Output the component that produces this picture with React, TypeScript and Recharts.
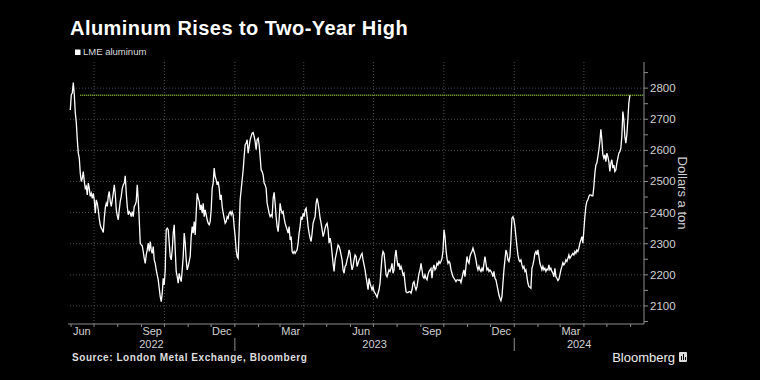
import React from 'react';
import { LineChart, Line, XAxis, YAxis, ReferenceLine } from 'recharts';

// ---------- data ----------
const seriesStart = '2022-05-31';
const seriesEnd = '2024-05-31';
const axisStart = '2022-05-28';
const axisEnd = '2024-06-18T12:00:00Z';
const highlightStart = '2022-06-13';

// LME aluminum, dollars a ton (roughly every trading day)
const prices: number[] = [
  2730, 2779, 2784, 2818, 2779, 2720, 2690, 2634, 2591, 2575,
  2527, 2500, 2510, 2532, 2500, 2478, 2484, 2457, 2495, 2478,
  2452, 2462, 2446, 2462, 2440, 2398, 2441, 2430, 2409, 2380,
  2360, 2350, 2345, 2336, 2380, 2415, 2430, 2420, 2452, 2468,
  2436, 2420, 2440, 2462, 2489, 2460, 2410, 2390, 2377, 2409,
  2436, 2452, 2478, 2489, 2495, 2518, 2462, 2420, 2393, 2403,
  2398, 2387, 2403, 2387, 2420, 2425, 2436, 2489, 2440, 2377,
  2302, 2296, 2293, 2275, 2253, 2237, 2264, 2280, 2302, 2275,
  2307, 2280, 2269, 2291, 2248, 2237, 2216, 2200, 2184, 2157,
  2130, 2114, 2141, 2189, 2168, 2216, 2345, 2350, 2345, 2302,
  2259, 2248, 2280, 2334, 2361, 2280, 2211, 2194, 2173,
  2205, 2189, 2178, 2216, 2259, 2334, 2302, 2248, 2216, 2227,
  2243, 2259, 2323, 2355, 2334, 2371, 2328, 2398, 2462, 2446,
  2436, 2409, 2425, 2398, 2430, 2387, 2409, 2393, 2377, 2366,
  2361, 2371, 2409, 2478, 2495, 2543, 2516, 2505, 2489, 2500,
  2478, 2441, 2457, 2420, 2398, 2382, 2366, 2371, 2387, 2382,
  2398, 2403, 2393, 2403, 2393, 2355, 2323, 2280, 2259, 2253,
  2345, 2441, 2473, 2505, 2537, 2580, 2618, 2623, 2634, 2591,
  2612, 2634, 2645, 2655, 2657, 2645, 2629, 2602, 2634, 2639,
  2618, 2580, 2537, 2532, 2521, 2495, 2489, 2478, 2430, 2414,
  2398, 2387, 2393, 2387, 2446, 2465, 2430, 2387, 2355, 2339,
  2377, 2430, 2409, 2398, 2403, 2382, 2366, 2355, 2345, 2334,
  2355, 2312, 2323, 2275, 2269,
  2275, 2269, 2275, 2280, 2302, 2334, 2355, 2387, 2377, 2398,
  2387, 2409, 2414, 2387, 2355, 2334, 2318, 2307, 2334, 2366,
  2377, 2387, 2430, 2446, 2430, 2409, 2382, 2366, 2345, 2323,
  2334, 2350, 2361, 2366, 2345, 2302, 2318, 2302, 2269, 2237,
  2211, 2248, 2264, 2280, 2296, 2291, 2280, 2264, 2248, 2216,
  2205, 2227, 2232, 2248, 2259, 2280, 2269, 2237, 2216, 2227,
  2248, 2264, 2259, 2227, 2237, 2248, 2253, 2264, 2269, 2248,
  2232, 2216, 2194, 2173, 2152, 2189, 2173, 2162, 2152, 2162,
  2146, 2141, 2135, 2128, 2141, 2152, 2173, 2216, 2259, 2275,
  2269, 2237, 2200, 2194, 2205, 2216, 2211, 2221, 2237, 2205,
  2216, 2259, 2280, 2248, 2227, 2237, 2216, 2227, 2216, 2200,
  2205, 2173, 2146, 2143, 2143,
  2146, 2146, 2141, 2152, 2173, 2178, 2162, 2152, 2162, 2184,
  2205, 2216, 2237, 2216, 2194, 2189, 2200, 2189, 2184, 2200,
  2211, 2216, 2221, 2189, 2221, 2232, 2216, 2221, 2237, 2232,
  2243, 2237, 2243, 2253, 2275, 2345, 2323, 2280, 2253, 2237,
  2243, 2237, 2216, 2205, 2194, 2189, 2184, 2178, 2184, 2184,
  2182, 2184, 2175, 2189, 2205, 2216, 2194, 2227, 2259, 2243,
  2237, 2259, 2269, 2275, 2286, 2275, 2264, 2248, 2227, 2216,
  2227, 2216, 2211, 2221, 2211, 2237, 2259, 2237, 2216, 2221,
  2211, 2216, 2211, 2205, 2194, 2211, 2189, 2184, 2168, 2152,
  2135, 2125, 2117, 2130, 2173, 2216, 2248, 2280, 2269, 2248,
  2243, 2259, 2312, 2382, 2387, 2377, 2355, 2323, 2291, 2264,
  2248, 2243, 2248, 2232, 2221,
  2227, 2211, 2216, 2194, 2173, 2162, 2160, 2157, 2221, 2232,
  2248, 2269, 2275, 2264, 2280, 2259, 2237, 2227, 2216, 2227,
  2216, 2221, 2211, 2218, 2216, 2232, 2216, 2221, 2211, 2205,
  2194, 2221, 2194, 2189, 2182, 2186, 2200, 2216, 2227, 2239,
  2232, 2237, 2248, 2243, 2253, 2264, 2253, 2259, 2264, 2269,
  2264, 2275, 2269, 2280, 2275, 2286, 2302, 2312, 2323, 2302,
  2345, 2387, 2420, 2436, 2441, 2452, 2457, 2457, 2454, 2454,
  2484, 2527, 2553, 2559, 2580, 2602, 2629, 2668, 2634, 2586,
  2575, 2586, 2564, 2591, 2580, 2564, 2532, 2559, 2570, 2543,
  2553, 2532, 2537, 2559, 2575, 2591, 2596, 2607, 2645, 2725,
  2698, 2645, 2623, 2650, 2698, 2752, 2777,
];

const yDomain: [number, number] = [2042, 2884];
const yTickValues = [2050, 2100, 2150, 2200, 2250, 2300, 2350, 2400, 2450, 2500, 2550, 2600, 2650, 2700, 2750, 2800, 2850];
const yLabelValues = [2100, 2200, 2300, 2400, 2500, 2600, 2700, 2800];

const monthTickDates = [
  '2022-06-01', '2022-07-01', '2022-08-01', '2022-09-01', '2022-10-01', '2022-11-01', '2022-12-01',
  '2023-01-01', '2023-02-01', '2023-03-01', '2023-04-01', '2023-05-01', '2023-06-01', '2023-07-01',
  '2023-08-01', '2023-09-01', '2023-10-01', '2023-11-01', '2023-12-01',
  '2024-01-01', '2024-02-01', '2024-03-01', '2024-04-01', '2024-05-01', '2024-06-01',
];
const monthLabelDates = ['2022-06-15', '2022-09-15', '2022-12-15', '2023-03-15', '2023-06-15', '2023-09-15', '2023-12-15', '2024-03-15'];
const monthLabelTexts = ['Jun', 'Sep', 'Dec', 'Mar', 'Jun', 'Sep', 'Dec', 'Mar'];
const yearStarts = ['2023-01-01', '2024-01-01'];
const yearTexts = ['2022', '2023', '2024'];
const quarterGridDates = ['2022-07-01', '2022-10-01', '2023-01-01', '2023-04-01', '2023-07-01', '2023-10-01', '2024-01-01', '2024-04-01'];

// ---------- helpers ----------
const ts = (d: string) => Date.parse(d.length === 10 ? d + 'T00:00:00Z' : d);
const xMin = ts(axisStart);
const xMax = ts(axisEnd);
const t0 = ts(seriesStart);
const t1 = ts(seriesEnd);
const step = (t1 - t0) / (prices.length - 1);
const data = prices.map((p, i) => ({ t: t0 + i * step, p }));
const lastPrice = prices[prices.length - 1];

const yearBounds = [xMin, ...yearStarts.map(ts), xMax];
const yearLabelValues = yearTexts.map((_, i) => (yearBounds[i] + yearBounds[i + 1]) / 2);

const monthLabelMap = new Map<number, string>(monthLabelDates.map((d, i) => [ts(d), monthLabelTexts[i]]));
const yearLabelMap = new Map<number, string>(yearLabelValues.map((v, i) => [v, yearTexts[i]]));
const yearSepSet = new Set<number>(yearStarts.map(ts));
const xTicks = [...monthTickDates.map(ts), ...monthLabelDates.map(ts), ...yearLabelValues].sort((a, b) => a - b);

const FONT = '"Liberation Sans", Arial, sans-serif';
const AXIS = '#8c8c8c';
const TXT = '#d0d0d0';
const GRID = '#4d4d4d';

function XTick(props: any) {
  const { x, y, payload } = props;
  const v = payload.value;
  if (monthLabelMap.has(v)) {
    return (
      <text x={x} y={y + 11} textAnchor="middle" fill={TXT} fontSize={11} fontFamily={FONT}>
        {monthLabelMap.get(v)}
      </text>
    );
  }
  if (yearLabelMap.has(v)) {
    return (
      <text x={x} y={y + 24} textAnchor="middle" fill={TXT} fontSize={11} fontFamily={FONT}>
        {yearLabelMap.get(v)}
      </text>
    );
  }
  const sep = yearSepSet.has(v);
  return (
    <g>
      <line x1={x} x2={x} y1={y} y2={y + 3} stroke={AXIS} />
      {sep && <line x1={x} x2={x} y1={y + 14} y2={y + 27} stroke={AXIS} />}
    </g>
  );
}

function YTick(props: any) {
  const { x, y, payload } = props;
  if (payload.value % 100 !== 0) return <g />;
  return (
    <text x={x} y={y + 4} textAnchor="start" fill={TXT} fontSize={11.5} fontFamily={FONT}>
      {payload.value}
    </text>
  );
}

export default function App() {
  return (
    <div style={{ position: 'absolute', left: 0, top: 0, width: 760, height: 380, background: '#000', overflow: 'hidden' }}>
      <LineChart
        width={760}
        height={380}
        data={data}
        margin={{ top: 62, right: 56, bottom: 26, left: 68 }}
      >
        <XAxis
          dataKey="t"
          type="number"
          domain={[xMin, xMax]}
          allowDataOverflow
          ticks={xTicks}
          interval={0}
          tickLine={false}
          tickSize={0}
          tickMargin={0}
          height={30}
          axisLine={{ stroke: AXIS }}
          tick={<XTick />}
        />
        <YAxis
          orientation="right"
          type="number"
          domain={yDomain}
          allowDataOverflow
          ticks={yTickValues}
          interval={0}
          width={60}
          tickSize={4}
          tickMargin={2}
          axisLine={{ stroke: AXIS }}
          tickLine={{ stroke: AXIS }}
          tick={<YTick />}
        />
        {yLabelValues.map((v) => (
          <ReferenceLine key={'h' + v} y={v} stroke={GRID} strokeDasharray="1 2" />
        ))}
        {quarterGridDates.map((d) => (
          <ReferenceLine key={'v' + d} x={ts(d)} stroke={GRID} strokeDasharray="1 2" />
        ))}
        <ReferenceLine
          segment={[{ x: ts(highlightStart), y: lastPrice }, { x: xMax, y: lastPrice }]}
          stroke="#8fc23a"
          strokeWidth={1.5}
          strokeDasharray="1 1"
        />
        <Line
          type="linear"
          dataKey="p"
          stroke="#ffffff"
          strokeWidth={1.3}
          dot={false}
          isAnimationActive={false}
        />
      </LineChart>
      <svg width={760} height={380} style={{ position: 'absolute', left: 0, top: 0, pointerEvents: 'none' }}>
        <text x={70} y={35} fill="#ffffff" fontSize={20} fontWeight="bold" fontFamily={FONT} letterSpacing={0.45}>
          Aluminum Rises to Two-Year High
        </text>
        <rect x={75} y={49.5} width={5.5} height={5.5} fill="#ffffff" />
        <text x={83} y={55} fill="#dddddd" fontSize={9.5} fontFamily={FONT}>LME aluminum</text>
        <text x={682} y={193} fill={TXT} fontSize={13} fontFamily={FONT} textAnchor="middle"
          dominantBaseline="central" transform="rotate(90 682 193)">
          Dollars a ton
        </text>
        <text x={72} y={361} fill="#dddddd" fontSize={10} fontWeight="bold" fontFamily={FONT} letterSpacing={0.55}>
          Source: London Metal Exchange, Bloomberg
        </text>
        <text x={675} y={362} fill="#eeeeee" fontSize={13} fontFamily={FONT} textAnchor="end">Bloomberg</text>
        <rect x={679} y={352} width={8} height={10} rx={1} fill="#dddddd" />
        <rect x={681} y={356} width={1} height={4} fill="#000" />
        <rect x={683} y={354} width={1} height={6} fill="#000" />
        <rect x={685} y={357} width={1} height={3} fill="#000" />
      </svg>
    </div>
  );
}
